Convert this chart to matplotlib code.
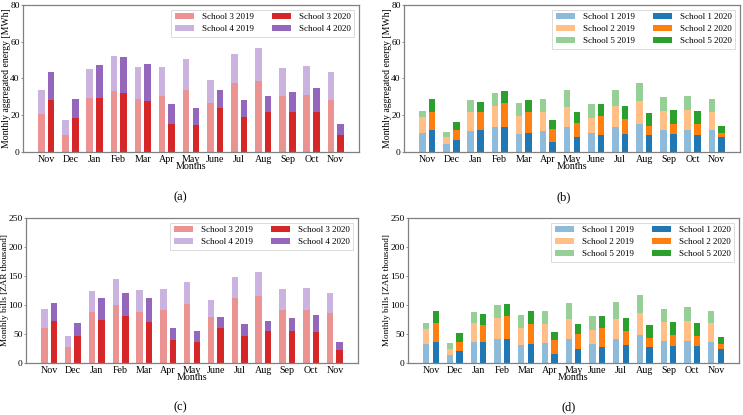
import matplotlib
matplotlib.use("Agg")
import matplotlib.pyplot as plt
import matplotlib.colors as mcolors
import numpy as np

plt.rcParams['font.family'] = ['Liberation Serif', 'DejaVu Serif']

months = ["Nov", "Dec", "Jan", "Feb", "Mar", "Apr", "May", "June", "Jul", "Aug", "Sep", "Oct", "Nov"]

# Panel (a): energy MWh, schools 3 & 4 (cumulative tops)
a_s3_2019 = [20.5, 9.5, 29.5, 33, 29, 30.5, 34, 26.5, 37.5, 38.5, 30.5, 31, 28.5]
a_tot_2019 = [34, 17.5, 45, 52.5, 46, 46, 50.5, 39, 53.5, 56.5, 45.5, 47, 43.5]
a_s3_2020 = [28.5, 18.5, 29.5, 32, 27.5, 15.5, 14.5, 24, 19, 22, 22, 21.5, 9]
a_tot_2020 = [43.5, 29, 47.5, 51.5, 48, 26, 24, 33.5, 28.5, 30.5, 32.5, 35, 15.5]

# Panel (b): energy MWh, schools 1, 2, 5 (cumulative)
b_s1_2019 = [10.5, 4.5, 11.5, 13.5, 10, 11.5, 13.5, 10.5, 13.5, 15.5, 12, 12, 12]
b_c12_2019 = [19, 8, 22, 25, 19.5, 22, 24.5, 18.5, 25, 28, 22.5, 23, 22]
b_tot_2019 = [22.5, 11, 28.5, 32, 26.5, 29, 33.5, 26, 34, 37.5, 30, 30.5, 29]
b_s1_2020 = [12, 6.5, 12, 13.5, 10.5, 5.5, 8, 9, 10, 9, 10, 9.5, 8]
b_c12_2020 = [22, 12, 21.5, 26.5, 22, 12.5, 16, 19.5, 18, 14, 15.5, 15, 10.5]
b_tot_2020 = [29, 16.5, 27, 33, 28.5, 17.5, 21.5, 26, 25, 21, 23, 22.5, 14]

# Panel (c): bills ZAR thousand, schools 3 & 4 (cumulative)
c_s3_2019 = [61, 28, 88, 100, 88, 92, 102, 79, 112, 116, 92, 92, 86]
c_tot_2019 = [93, 47, 125, 145, 126, 127, 140, 108, 149, 157, 127, 130, 120]
c_s3_2020 = [72, 47, 75, 81, 70, 39, 36, 61, 47, 55, 55, 54, 22]
c_tot_2020 = [103, 69, 112, 121, 112, 61, 56, 80, 67, 73, 77, 82, 36]

# Panel (d): bills ZAR thousand, schools 1, 2, 5 (cumulative)
d_s1_2019 = [33, 13, 36, 41, 31, 35, 42, 32, 42, 48, 38, 38, 37]
d_c12_2019 = [58, 25, 69, 78, 60, 67, 76, 57, 76, 86, 70, 72, 69]
d_tot_2019 = [69, 34, 88, 100, 82, 90, 103, 81, 106, 117, 93, 96, 89]
d_s1_2020 = [37, 20, 37, 42, 33, 16, 24, 27, 31, 28, 30, 30, 24]
d_c12_2020 = [69, 37, 66, 81, 68, 39, 50, 61, 56, 43, 48, 47, 33]
d_tot_2020 = [90, 52, 84, 102, 89, 54, 67, 81, 78, 65, 71, 69, 44]


def light(c, a=0.5):
    r, g, b = mcolors.to_rgb(c)
    return (1 - a + a * r, 1 - a + a * g, 1 - a + a * b)


W, H = 743, 415
fig = plt.figure(figsize=(W / 100, H / 100), dpi=100)


def add_ax(l, t, r, b):
    return fig.add_axes([l / W, 1 - b / H, (r - l) / W, (b - t) / H])


x = np.arange(len(months))
off = 0.2
bw = 0.27
TFS = 7.2
YTFS = 6.8
LFS = 6.5


def stack(ax, cums, labels, colors, pos):
    prev = np.zeros(len(months))
    handles = []
    for cum, lab, col in zip(cums, labels, colors):
        cum = np.array(cum, dtype=float)
        h = ax.bar(pos, cum - prev, bw, bottom=prev, color=col, label=lab, linewidth=0)
        handles.append(h)
        prev = cum
    return handles


def style(ax, ymax, yticks, ylabel, ylab_px, yfs):
    ax.set_ylim(0, ymax)
    ax.set_yticks(yticks)
    ax.set_xticks(x)
    ax.set_xticklabels(months)
    ax.tick_params(axis='y', labelsize=YTFS, length=1.8, width=0.6, pad=0.6, color='#808080')
    ax.tick_params(axis='x', labelsize=TFS, length=0, pad=2)
    for s in ax.spines.values():
        s.set_color('#808080')
        s.set_linewidth(0.9)
    ax.set_xlabel("Months", fontsize=TFS, labelpad=-1)
    ax.set_ylabel(ylabel, fontsize=yfs)
    bb = ax.get_position()
    ax.yaxis.set_label_coords(ylab_px / (bb.width * W), 0.5)


def make_legend(ax, handles):
    leg = ax.legend(handles, [h.get_label() for h in handles], ncol=2, loc='upper right',
                    fontsize=LFS, frameon=True, fancybox=False, columnspacing=2.0,
                    handlelength=2.1, borderpad=0.4, labelspacing=0.38, handletextpad=0.9,
                    borderaxespad=0.5)
    leg.get_frame().set_edgecolor('#cccccc')
    leg.get_frame().set_linewidth(0.6)


def panel34(ax, s3_19, tot19, s3_20, tot20, ymax, yticks, ylabel, ylab_px, yfs):
    red, purple = '#d62728', '#9467bd'
    h1 = stack(ax, [s3_19, tot19], ['School 3 2019', 'School 4 2019'], [light(red), light(purple)], x - off)
    h2 = stack(ax, [s3_20, tot20], ['School 3 2020', 'School 4 2020'], [red, purple], x + off)
    style(ax, ymax, yticks, ylabel, ylab_px, yfs)
    make_legend(ax, h1 + h2)


def panel125(ax, s1_19, c12_19, tot19, s1_20, c12_20, tot20, ymax, yticks, ylabel, ylab_px, yfs):
    blue, orange, green = '#1f77b4', '#ff7f0e', '#2ca02c'
    h1 = stack(ax, [s1_19, c12_19, tot19], ['School 1 2019', 'School 2 2019', 'School 5 2019'],
               [light(blue), light(orange), light(green)], x - off)
    h2 = stack(ax, [s1_20, c12_20, tot20], ['School 1 2020', 'School 2 2020', 'School 5 2020'],
               [blue, orange, green], x + off)
    style(ax, ymax, yticks, ylabel, ylab_px, yfs)
    make_legend(ax, h1 + h2)


axa = add_ax(23, 5, 359, 152)
axb = add_ax(404, 5, 740, 152)
axc = add_ax(26, 218, 358, 363)
axd = add_ax(408, 218, 739, 363)

panel34(axa, a_s3_2019, a_tot_2019, a_s3_2020, a_tot_2020, 80, [0, 20, 40, 60, 80],
        "Monthly aggregated energy [MWh]", -12, 7)
panel125(axb, b_s1_2019, b_c12_2019, b_tot_2019, b_s1_2020, b_c12_2020, b_tot_2020, 80,
         [0, 20, 40, 60, 80], "Monthly aggregated energy [MWh]", -12, 7)
panel34(axc, c_s3_2019, c_tot_2019, c_s3_2020, c_tot_2020, 250, [0, 50, 100, 150, 200, 250],
        "Monthly bills [ZAR thousand]", -17, 6.6)
panel125(axd, d_s1_2019, d_c12_2019, d_tot_2019, d_s1_2020, d_c12_2020, d_tot_2020, 250,
         [0, 50, 100, 150, 200, 250], "Monthly bills [ZAR thousand]", -17, 6.6)

for lab, (px, py) in zip(["(a)", "(b)", "(c)", "(d)"],
                         [(180, 197), (564, 197), (180, 407), (569, 407)]):
    fig.text(px / W, 1 - py / H, lab, ha='center', va='center', fontsize=9)

fig.savefig("out.png", dpi=100)
